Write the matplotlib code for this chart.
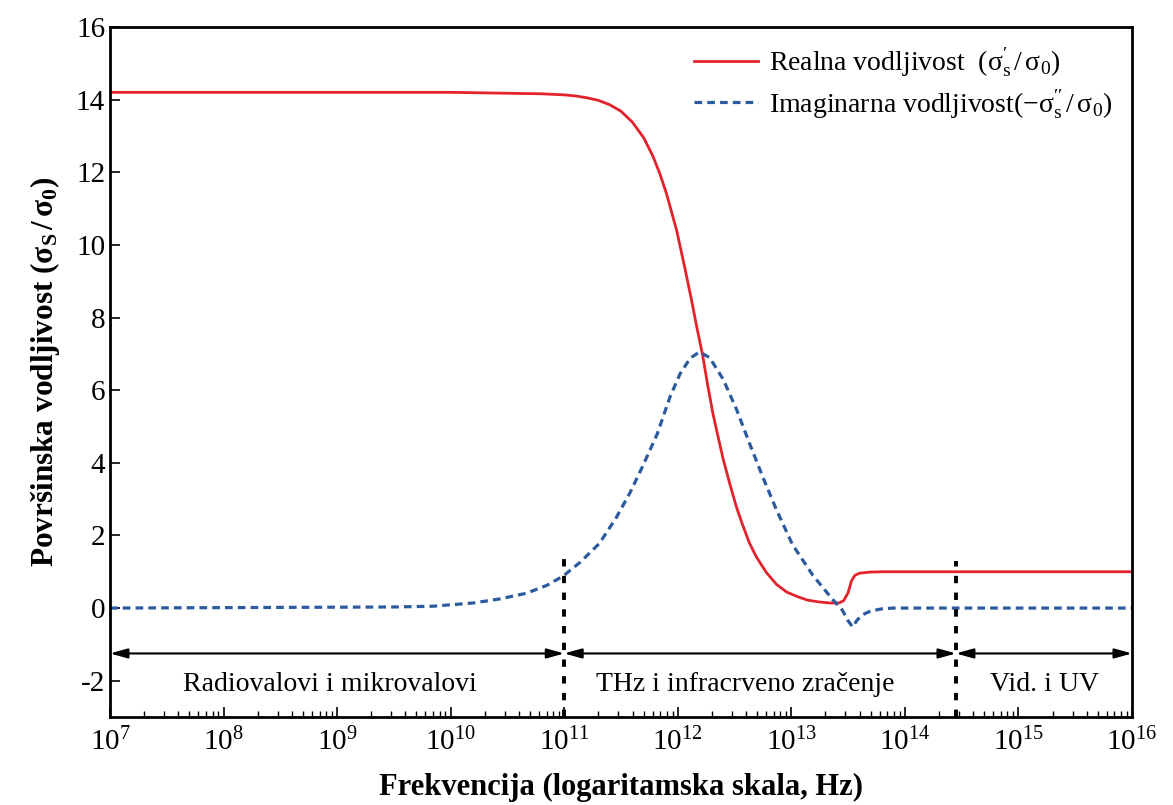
import matplotlib
matplotlib.use("Agg")
import matplotlib.pyplot as plt
from matplotlib.ticker import LogLocator, NullFormatter
import numpy as np

plt.rcParams.update({'font.family': 'Liberation Serif',
                     'mathtext.fontset': 'stix',
                     'axes.unicode_minus': False,
                     'font.size': 21})

# log10 of frequency (Hz) and normalised conductivity
real_logf = [7.0, 10.0, 10.8, 11.0, 11.1, 11.2, 11.3, 11.4, 11.5, 11.6, 11.7, 11.78, 11.84,
             11.9, 11.99, 12.06, 12.12, 12.17, 12.22, 12.26, 12.31, 12.36, 12.40,
             12.46, 12.52, 12.57, 12.63, 12.69, 12.78, 12.87, 12.96, 13.05, 13.14,
             13.24, 13.34, 13.42, 13.46, 13.50, 13.53, 13.56, 13.60, 13.69, 13.8, 16.0]
real_val = [14.2, 14.2, 14.16, 14.13, 14.1, 14.05, 13.98, 13.86, 13.68, 13.38, 12.95, 12.45, 11.98,
            11.42, 10.4, 9.4, 8.5, 7.7, 6.95, 6.2, 5.35, 4.65, 4.1,
            3.4, 2.75, 2.3, 1.8, 1.42, 0.98, 0.65, 0.44, 0.32, 0.22,
            0.17, 0.14, 0.14, 0.2, 0.42, 0.75, 0.9, 0.96, 0.99, 1.0, 1.0]

imag_logf = [7.0, 8.67, 9.5, 9.84, 10.2, 10.43, 10.67, 10.85, 10.99, 11.14, 11.31,
             11.46, 11.58, 11.69, 11.82, 11.93, 12.02, 12.11, 12.19, 12.28, 12.40,
             12.52, 12.63, 12.75, 12.87, 13.01, 13.19, 13.36, 13.45, 13.50, 13.54,
             13.58, 13.63, 13.70, 13.80, 13.9, 16.0]
imag_val = [0.0, 0.02, 0.03, 0.05, 0.14, 0.25, 0.41, 0.63, 0.88, 1.26, 1.78,
            2.5, 3.18, 3.9, 4.8, 5.8, 6.45, 6.88, 7.05, 6.9, 6.3,
            5.45, 4.55, 3.6, 2.7, 1.75, 0.9, 0.25, -0.06, -0.35, -0.52,
            -0.33, -0.18, -0.08, -0.02, 0.0, 0.0]

# band boundaries (log10 Hz) and labels
band_edges = [7.0, 11.0, 14.45, 16.0]
band_names = ["Radiovalovi i mikrovalovi", "THz i infracrveno zračenje", "Vid. i UV"]
band_text_pos = [8.94, 12.59, 15.23]
divider_tops = [1.5, 1.3]

fig = plt.figure(figsize=(11.73, 8.05), dpi=100)
ax = fig.add_axes([0.0938, 0.1093, 0.8712, 0.8572])

ax.semilogx(10.0 ** np.array(real_logf), real_val, color='#e3232b', lw=2.0,
            label=r"Realna vodljivost  $\mathregular{(σ_s^{\prime}\,/\,σ_0)}$")
ax.semilogx(10.0 ** np.array(imag_logf), imag_val, color='#2c5a9e', lw=2.3,
            dashes=(2.4, 1.6),
            label=r"Imaginarna vodljivost$\mathregular{(-σ_s^{\prime\prime}\,/\,σ_0)}$")

# vertical dividers between bands
for edge, top in zip(band_edges[1:3], divider_tops):
    ax.plot([10.0 ** edge, 10.0 ** edge], [-3, top], color='black', lw=2.8,
            dashes=(1.9, 2.4))

# double headed arrows and band names
for i in range(3):
    ax.annotate("", xy=(10.0 ** band_edges[i], -1.25), xytext=(10.0 ** band_edges[i + 1], -1.25),
                arrowprops=dict(arrowstyle='<|-|>,head_length=0.5,head_width=0.14',
                                color='black', lw=1.5, shrinkA=0, shrinkB=0))
    ax.text(10.0 ** band_text_pos[i], -2.1, band_names[i], ha='center', va='center', fontsize=20)

ax.set_xlim(1e7, 1e16)
ax.set_ylim(-3, 16)
ax.set_yticks(np.arange(-2, 17, 2))
ax.set_xticks([10.0 ** k for k in range(7, 17)])
ax.xaxis.set_minor_locator(LogLocator(base=10, subs=np.arange(2, 10), numticks=200))
ax.xaxis.set_minor_formatter(NullFormatter())
ax.tick_params(direction='in', which='both', labelsize=21)
ax.tick_params(which='major', length=7, width=1.2)
ax.tick_params(which='minor', length=4, width=1.0)
ax.tick_params(axis='x', pad=8)
for s in ax.spines.values():
    s.set_linewidth(2.0)

ax.set_xlabel("Frekvencija (logaritamska skala, Hz)", fontsize=22, fontweight='bold', labelpad=12)
ax.set_ylabel(r"Površinska vodljivost ($\mathregular{σ_S\,/\,σ_0}$)", fontsize=22.5,
              fontweight='bold', labelpad=10)

ax.legend(loc='upper right', frameon=False, fontsize=20, handlelength=2.3,
          handletextpad=0.4, labelspacing=0.3, borderaxespad=0.3)

fig.savefig("out.png", dpi=100)
